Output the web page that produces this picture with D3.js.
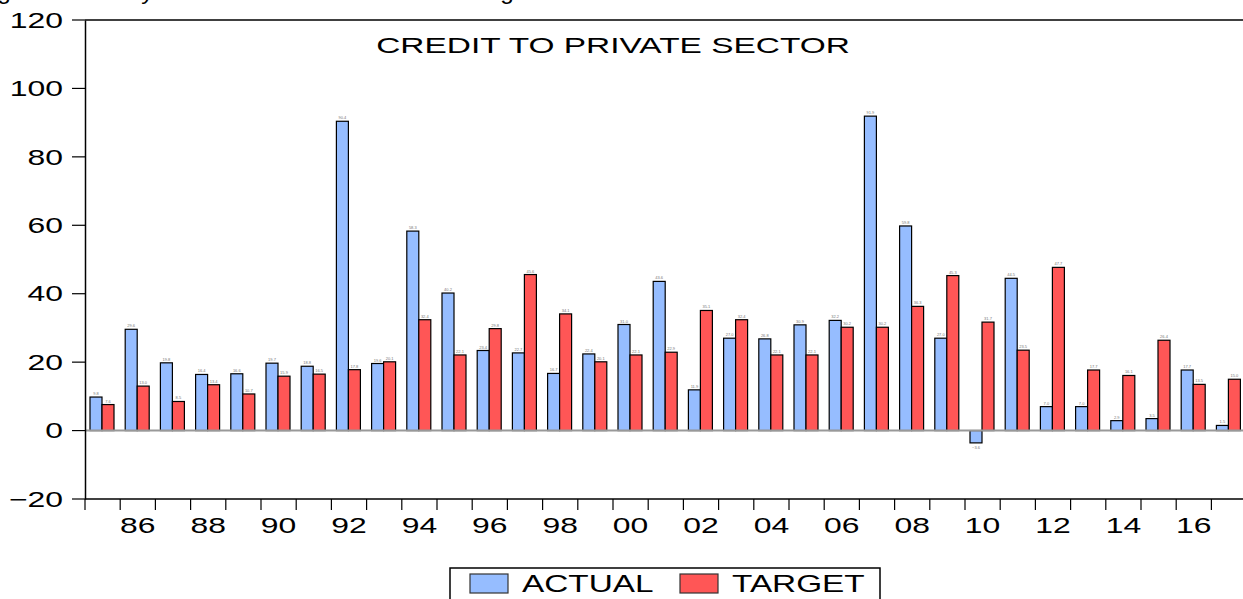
<!DOCTYPE html>
<html>
<head>
<meta charset="utf-8">
<script src="https://cdn.jsdelivr.net/npm/d3@7"></script>
<style>
  body { margin: 0; background: white; }
  svg { display: block; font-family: "Liberation Sans", Arial, sans-serif; }
</style>
</head>
<body>
<svg id="chart"></svg>
<script>
// DATA
const years = d3.range(1985, 2018)
const series = ["ACTUAL", "TARGET"]
const actual = [9.8, 29.6, 19.8, 16.4, 16.6, 19.7, 18.8, 90.4, 19.6, 58.3, 40.2,
	23.4, 22.7, 16.7, 22.4, 31.0, 43.6, 11.9, 27.0, 26.8, 30.9, 32.2,
	91.9, 59.8, 27.0, -3.6, 44.5, 7.0, 7.0, 2.9, 3.5, 17.7, 1.5]
const target = [7.6, 13.0, 8.5, 13.4, 10.7, 15.9, 16.5, 17.8, 20.1, 32.4, 22.1,
	29.8, 45.6, 34.1, 20.1, 22.1, 22.9, 35.1, 32.4, 22.1, 22.1, 30.2,
	30.2, 36.3, 45.3, 31.7, 23.5, 47.7, 17.7, 16.1, 26.4, 13.5, 15.0]
const yTicks = [-20, 0, 20, 40, 60, 80, 100, 120]

const colors = {ACTUAL: "#96bdff", TARGET: "#ff5656"}

const width = 1243
const height = 599
const margin = {top: 20, left: 85, bottom: 100}
const stretch = 1.45

var rows = years.map(function(yr, i) {
	return {year: yr, ACTUAL: actual[i], TARGET: target[i]}
})

var svg = d3.select("#chart").attr("width", width).attr("height", height)

var x = d3.scaleBand()
	.domain(years)
	.range([margin.left, margin.left + years.length * 35.2])

var x1 = d3.scaleBand()
	.domain(series)
	.range([5, 29])

var y = d3.scaleLinear()
	.domain([-20, 120])
	.range([height - margin.bottom, margin.top])

// stretched text, like the original export
function wide(sel, px, py, k) {
	sel.attr("x", 0).attr("y", 0)
		.attr("transform", "translate(" + px + "," + py + ") scale(" + (k || stretch) + ",1)")
}

// caption cut off at top (only descenders show)
svg.append("text")
	.attr("font-size", 22)
	.attr("fill", "black")
	.text("Figure 2: Money and Credit to Private Sector Target")
	.call(wide, -23, -1, 1.11)

// frame
svg.append("line")
	.attr("x1", margin.left).attr("x2", width)
	.attr("y1", y(120)).attr("y2", y(120))
	.attr("stroke", "black").attr("stroke-width", 1.5)

// bars
var groups = svg.append("g")
	.selectAll("g")
	.data(rows)
	.join("g")
	.attr("transform", function(d) { return "translate(" + x(d.year) + ",0)" })

var bars = groups.selectAll("rect")
	.data(function(d) { return series.map(function(s) { return {key: s, value: d[s]} }) })
	.join("rect")
	.attr("x", function(d) { return x1(d.key) })
	.attr("y", function(d) { return y(Math.max(0, d.value)) })
	.attr("width", x1.bandwidth())
	.attr("height", function(d) { return Math.abs(y(d.value) - y(0)) })
	.attr("fill", function(d) { return colors[d.key] })
	.attr("stroke", "black")
	.attr("stroke-width", 1.2)

// tiny value labels
groups.selectAll("text")
	.data(function(d) { return series.map(function(s) { return {key: s, value: d[s]} }) })
	.join("text")
	.attr("x", function(d) { return x1(d.key) + x1.bandwidth() / 2 })
	.attr("y", function(d) { return d.value >= 0 ? y(d.value) - 2 : y(d.value) + 6 })
	.attr("text-anchor", "middle")
	.attr("font-size", 4)
	.attr("fill", "#777")
	.text(function(d) { return d3.format(".1f")(d.value) })

// zero line
svg.append("line")
	.attr("x1", margin.left).attr("x2", width)
	.attr("y1", y(0)).attr("y2", y(0))
	.attr("stroke", "#999").attr("stroke-width", 2)

// y axis
var yAxis = svg.append("g")
	.attr("transform", "translate(" + margin.left + ",0)")
	.call(d3.axisLeft(y).tickValues(yTicks).tickSize(13).tickSizeOuter(0))

yAxis.select(".domain").attr("stroke-width", 1.5)
yAxis.selectAll("line").attr("stroke-width", 1.2)
yAxis.selectAll("text")
	.attr("font-size", 22)
	.attr("font-family", "Liberation Sans, Arial, sans-serif")
	.attr("fill", "black")
	.attr("dy", "0.35em")
	.each(function() { d3.select(this).call(wide, -22, 0) })
yAxis.selectAll(".tick").each(function(d) {
	d3.select(this).attr("transform", "translate(0," + y(d) + ")")
})

// x axis: ticks on year boundaries, labels every other year
var bottomY = y(-20)
svg.append("line")
	.attr("x1", margin.left).attr("x2", width)
	.attr("y1", bottomY).attr("y2", bottomY)
	.attr("stroke", "black").attr("stroke-width", 1.5)

svg.append("g")
	.selectAll("line")
	.data(years)
	.join("line")
	.attr("x1", function(d) { return x(d) })
	.attr("x2", function(d) { return x(d) })
	.attr("y1", bottomY).attr("y2", bottomY + 11)
	.attr("stroke", "black").attr("stroke-width", 1.2)

svg.append("g")
	.selectAll("text")
	.data(years.filter(function(d) { return d % 2 == 0 }))
	.join("text")
	.attr("font-size", 22)
	.attr("text-anchor", "middle")
	.attr("fill", "black")
	.text(function(d) { return String(d).slice(2) })
	.each(function(d) { d3.select(this).call(wide, x(d) + x.bandwidth() / 2, 533) })

// title
svg.append("text")
	.attr("font-size", 22)
	.attr("text-anchor", "middle")
	.attr("fill", "black")
	.text("CREDIT TO PRIVATE SECTOR")
	.call(wide, 613, 53, 1.52)

// legend
var legend = svg.append("g").attr("transform", "translate(450,568)")
legend.append("rect")
	.attr("width", 430).attr("height", 40)
	.attr("fill", "white").attr("stroke", "black").attr("stroke-width", 1.5)

var legendX = {ACTUAL: 20, TARGET: 230}
series.forEach(function(s) {
	legend.append("rect")
		.attr("x", legendX[s]).attr("y", 6)
		.attr("width", 38).attr("height", 19)
		.attr("fill", colors[s]).attr("stroke", "#333").attr("stroke-width", 1.2)
	legend.append("text")
		.attr("font-size", 23)
		.attr("fill", "black")
		.text(s)
		.call(wide, legendX[s] + 52, 24)
})
</script>
</body>
</html>
